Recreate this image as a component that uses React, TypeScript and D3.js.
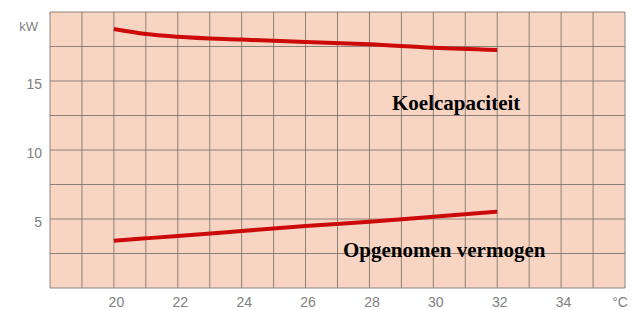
import React from "react";
import * as d3 from "d3";

const temps = [20, 21, 22, 24, 26, 28, 30, 32];
const koelcapaciteit = [18.77, 18.41, 18.21, 18.0, 17.83, 17.66, 17.41, 17.25];
const opgenomen = [3.43, 3.6, 3.77, 4.13, 4.49, 4.8, 5.17, 5.53];
const xTickLabels = [20, 22, 24, 26, 28, 30, 32, 34];
const yTickLabels = [5, 10, 15];
const xGrid = d3.range(18, 37, 1);
const yGrid = d3.range(0, 20.01, 2.5);

const W = 635, H = 310;
const L = 50, T = 12, R = 625, B = 288;

export default function App() {
  const x = d3.scaleLinear().domain([18, 36]).range([L, R]);
  const y = d3.scaleLinear().domain([0, 20]).range([B, T]);
  const line = d3
    .line<number>()
    .x((_, i) => x(temps[i]))
    .y((d) => y(d))
    .curve(d3.curveMonotoneX);
  const tickFont = "Liberation Sans, Arial, sans-serif";
  return (
    <svg width={W} height={H} style={{ position: "absolute", left: 0, top: 0, background: "#fff" }}>
      <rect x={L} y={T} width={R - L} height={B - T} fill="#f8d5c3" />
      {xGrid.map((v) => (
        <line key={"xg" + v} x1={x(v)} x2={x(v)} y1={T} y2={B} stroke="#7d716c" strokeWidth={1} strokeOpacity={0.85} />
      ))}
      {yGrid.map((v) => (
        <line key={"yg" + v} x1={L} x2={R} y1={y(v)} y2={y(v)} stroke="#7d716c" strokeWidth={1} strokeOpacity={0.85} />
      ))}
      <path d={line(koelcapaciteit) || ""} fill="none" stroke="#cc0a0a" strokeWidth={4} strokeLinecap="butt" />
      <path d={line(opgenomen) || ""} fill="none" stroke="#cc0a0a" strokeWidth={4} strokeLinecap="butt" />
      {xTickLabels.map((v) => (
        <text key={"xl" + v} x={x(v) + 2.5} y={303} fontSize={14} fill="#808080" textAnchor="middle" dominantBaseline="middle" fontFamily={tickFont}>
          {v}
        </text>
      ))}
      <text x={620} y={303} fontSize={14} fill="#808080" textAnchor="middle" dominantBaseline="middle" fontFamily={tickFont}>°C</text>
      {yTickLabels.map((v) => (
        <text key={"yl" + v} x={42} y={y(v) + 4} fontSize={14} fill="#808080" textAnchor="end" dominantBaseline="middle" fontFamily={tickFont}>
          {v}
        </text>
      ))}
      <text x={38} y={28} fontSize={13} fill="#808080" textAnchor="end" dominantBaseline="middle" fontFamily={tickFont}>kW</text>
      <text x={392} y={110} fontSize={21} fontWeight="bold" fill="#000" fontFamily="Liberation Serif, Times New Roman, serif">Koelcapaciteit</text>
      <text x={343} y={257} fontSize={21} fontWeight="bold" fill="#000" fontFamily="Liberation Serif, Times New Roman, serif">Opgenomen vermogen</text>
    </svg>
  );
}
